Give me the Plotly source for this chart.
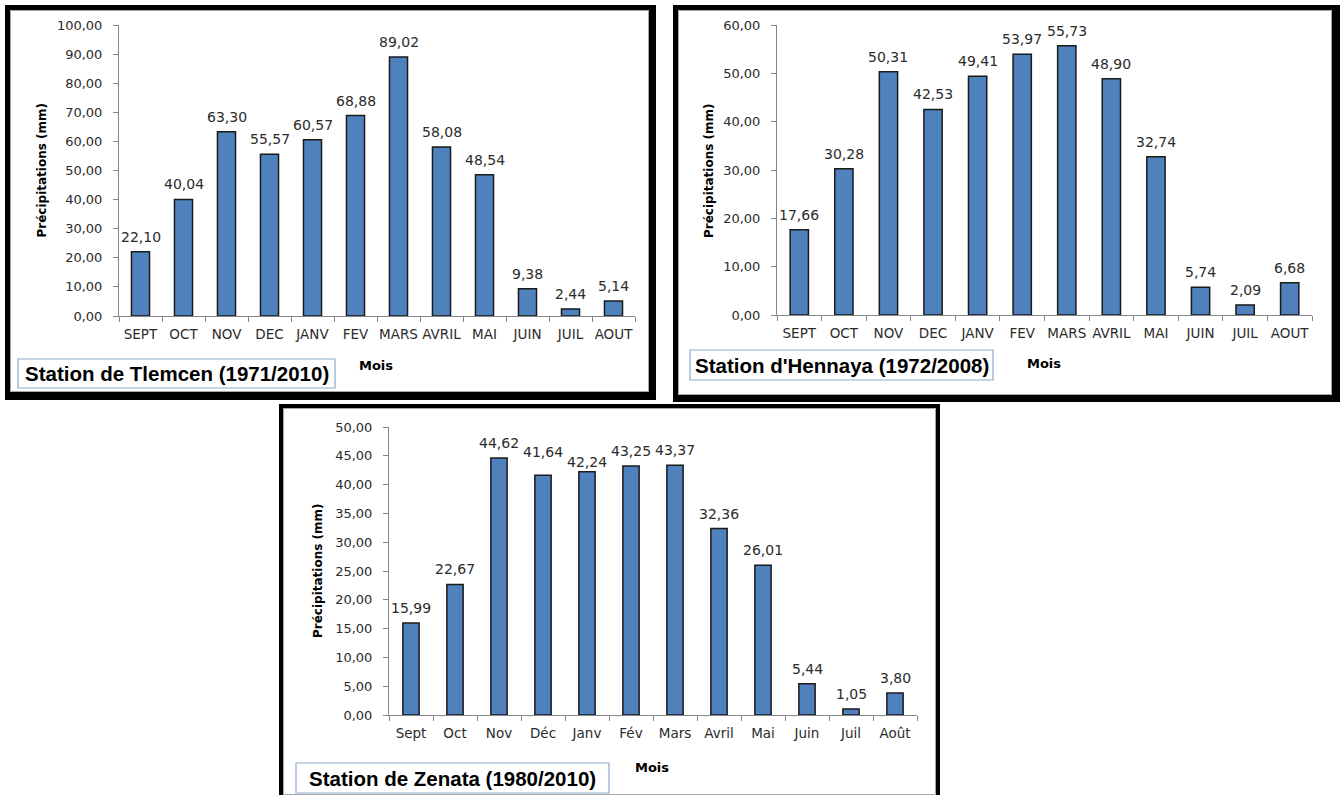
import plotly.graph_objects as go

# Monthly mean precipitation (mm) at three stations
months_upper = ["SEPT", "OCT", "NOV", "DEC", "JANV", "FEV", "MARS", "AVRIL", "MAI", "JUIN", "JUIL", "AOUT"]
months_title = ["Sept", "Oct", "Nov", "Déc", "Janv", "Fév", "Mars", "Avril", "Mai", "Juin", "Juil", "Août"]

tlemcen = [22.10, 40.04, 63.30, 55.57, 60.57, 68.88, 89.02, 58.08, 48.54, 9.38, 2.44, 5.14]
hennaya = [17.66, 30.28, 50.31, 42.53, 49.41, 53.97, 55.73, 48.90, 32.74, 5.74, 2.09, 6.68]
zenata = [15.99, 22.67, 44.62, 41.64, 42.24, 43.25, 43.37, 32.36, 26.01, 5.44, 1.05, 3.80]

station_names = [
    "Station de Tlemcen (1971/2010)",
    "Station d'Hennaya (1972/2008)",
    "Station de Zenata (1980/2010)",
]
y_title = "Précipitations (mm)"
x_title = "Mois"

W, H = 1341, 795
BAR = "#4F81BD"
AXIS = "#868686"
TXT = "#2b2b2b"
NUM_FONT = "DejaVu Sans"


def px(x):
    return x / W


def py(y):
    return 1 - y / H


# panel layout in pixels: plot area (x0, x1, y_bottom, y_top), axis max, dtick, bar width
panels = [
    dict(cats=months_upper, vals=tlemcen, x0=119, x1=635, yb=316, yt=25, ymax=100, dtick=10, bw=0.42,
         ytx=41, mois=(376, 365), box=(18, 359, 335, 388), name=station_names[0]),
    dict(cats=months_upper, vals=hennaya, x0=777, x1=1312, yb=315, yt=25, ymax=60, dtick=10, bw=0.41,
         ytx=709, mois=(1044, 363), box=(690, 350, 993, 380), name=station_names[1]),
    dict(cats=months_title, vals=zenata, x0=389, x1=917, yb=715, yt=427, ymax=50, dtick=5, bw=0.37,
         ytx=318, mois=(652, 767), box=(296, 763, 609, 793), name=station_names[2]),
]

# small vertical nudges for labels that would otherwise collide
label_nudge = {(2, 3): 8, (2, 4): -5}

fig = go.Figure()
annotations = []
shapes = []

for i, p in enumerate(panels):
    sfx = "" if i == 0 else str(i + 1)
    xa, ya = "x" + sfx, "y" + sfx
    fig.add_trace(go.Bar(
        x=p["cats"], y=p["vals"], xaxis=xa, yaxis=ya, width=p["bw"],
        marker=dict(color=BAR, line=dict(color="#1a1a1a", width=1.5)),
        hoverinfo="x+y",
    ))
    axis_common = dict(showline=True, linecolor=AXIS, linewidth=1, ticks="outside",
                       tickcolor=AXIS, ticklen=5, showgrid=False, zeroline=False,
                       automargin=False)
    fig.update_layout(**{
        "xaxis" + sfx: dict(domain=[px(p["x0"]), px(p["x1"])], anchor=ya, type="category",
                            range=[-0.5, 11.5], tickson="boundaries", ticklabelstandoff=6,
                            tickangle=0,
                            tickfont=dict(family=NUM_FONT, size=13.5, color=TXT), **axis_common),
        "yaxis" + sfx: dict(domain=[py(p["yb"]), py(p["yt"])], anchor=xa, range=[0, p["ymax"]],
                            dtick=p["dtick"], tickformat=".2f", ticklabelstandoff=8,
                            tickfont=dict(family=NUM_FONT, size=13, color=TXT), **axis_common),
    })
    # value labels above each bar
    for j, (c, v) in enumerate(zip(p["cats"], p["vals"])):
        annotations.append(dict(
            x=c, y=v, xref=xa, yref=ya, text=f"{v:.2f}".replace(".", ","),
            showarrow=False, xanchor="center", yanchor="bottom",
            yshift=5 + label_nudge.get((i, j), 0),
            font=dict(family=NUM_FONT, size=14, color=TXT),
        ))
    # axis titles
    annotations.append(dict(
        x=px(p["ytx"]), y=py((p["yb"] + p["yt"]) / 2), xref="paper", yref="paper",
        text=f"<b>{y_title}</b>", textangle=-90, showarrow=False,
        xanchor="center", yanchor="middle",
        font=dict(family=NUM_FONT, size=12, color="#000000"),
    ))
    annotations.append(dict(
        x=px(p["mois"][0]), y=py(p["mois"][1]), xref="paper", yref="paper",
        text=f"<b>{x_title}</b>", showarrow=False, xanchor="center", yanchor="middle",
        font=dict(family=NUM_FONT, size=13, color="#000000"),
    ))
    # station caption box
    bx0, by0, bx1, by1 = p["box"]
    shapes.append(dict(type="rect", xref="paper", yref="paper", x0=px(bx0), x1=px(bx1),
                       y0=py(by1), y1=py(by0), line=dict(color="#8EA9CB", width=1.2),
                       fillcolor="white", layer="below"))
    annotations.append(dict(
        x=px((bx0 + bx1) / 2), y=py((by0 + by1) / 2), xref="paper", yref="paper",
        text=f"<b>{p['name']}</b>", showarrow=False, xanchor="center", yanchor="middle",
        font=dict(family="Liberation Sans, Arial", size=20.5, color="#000000"),
    ))

# black frames around each panel (left, top, right, bottom edges) plus the thin inner border
frames = [
    dict(l=(5, 10), t=(5, 10), r=(649, 656), b=(392, 400)),
    dict(l=(673, 678), t=(5, 10), r=(1332, 1340), b=(395, 402)),
    dict(l=(279, 283), t=(404, 408), r=(936, 940), b=(795, 800)),
]
for f in frames:
    L0, L1 = f["l"]
    T0, T1 = f["t"]
    R0, R1 = f["r"]
    B0, B1 = f["b"]
    for (x0, y0, x1, y1) in [(L0, T0, L1, B1), (L0, T0, R1, T1), (R0, T0, R1, B1), (L0, B0, R1, B1)]:
        shapes.append(dict(type="rect", xref="paper", yref="paper", x0=px(x0), x1=px(x1),
                           y0=py(y1), y1=py(y0), line=dict(width=0), fillcolor="#000000"))
    shapes.append(dict(type="rect", xref="paper", yref="paper", x0=px(L1 + 0.5), x1=px(R0 - 0.5),
                       y0=py(B0 - 0.5), y1=py(T1 + 0.5), line=dict(color="#A6A6A6", width=1),
                       layer="below"))

fig.update_layout(
    width=W, height=H, autosize=False,
    margin=dict(l=0, r=0, t=0, b=0, autoexpand=False),
    paper_bgcolor="white", plot_bgcolor="white",
    showlegend=False, separators=", ",
    annotations=annotations, shapes=shapes,
    bargap=0.5,
)

fig.write_html("out.html")
